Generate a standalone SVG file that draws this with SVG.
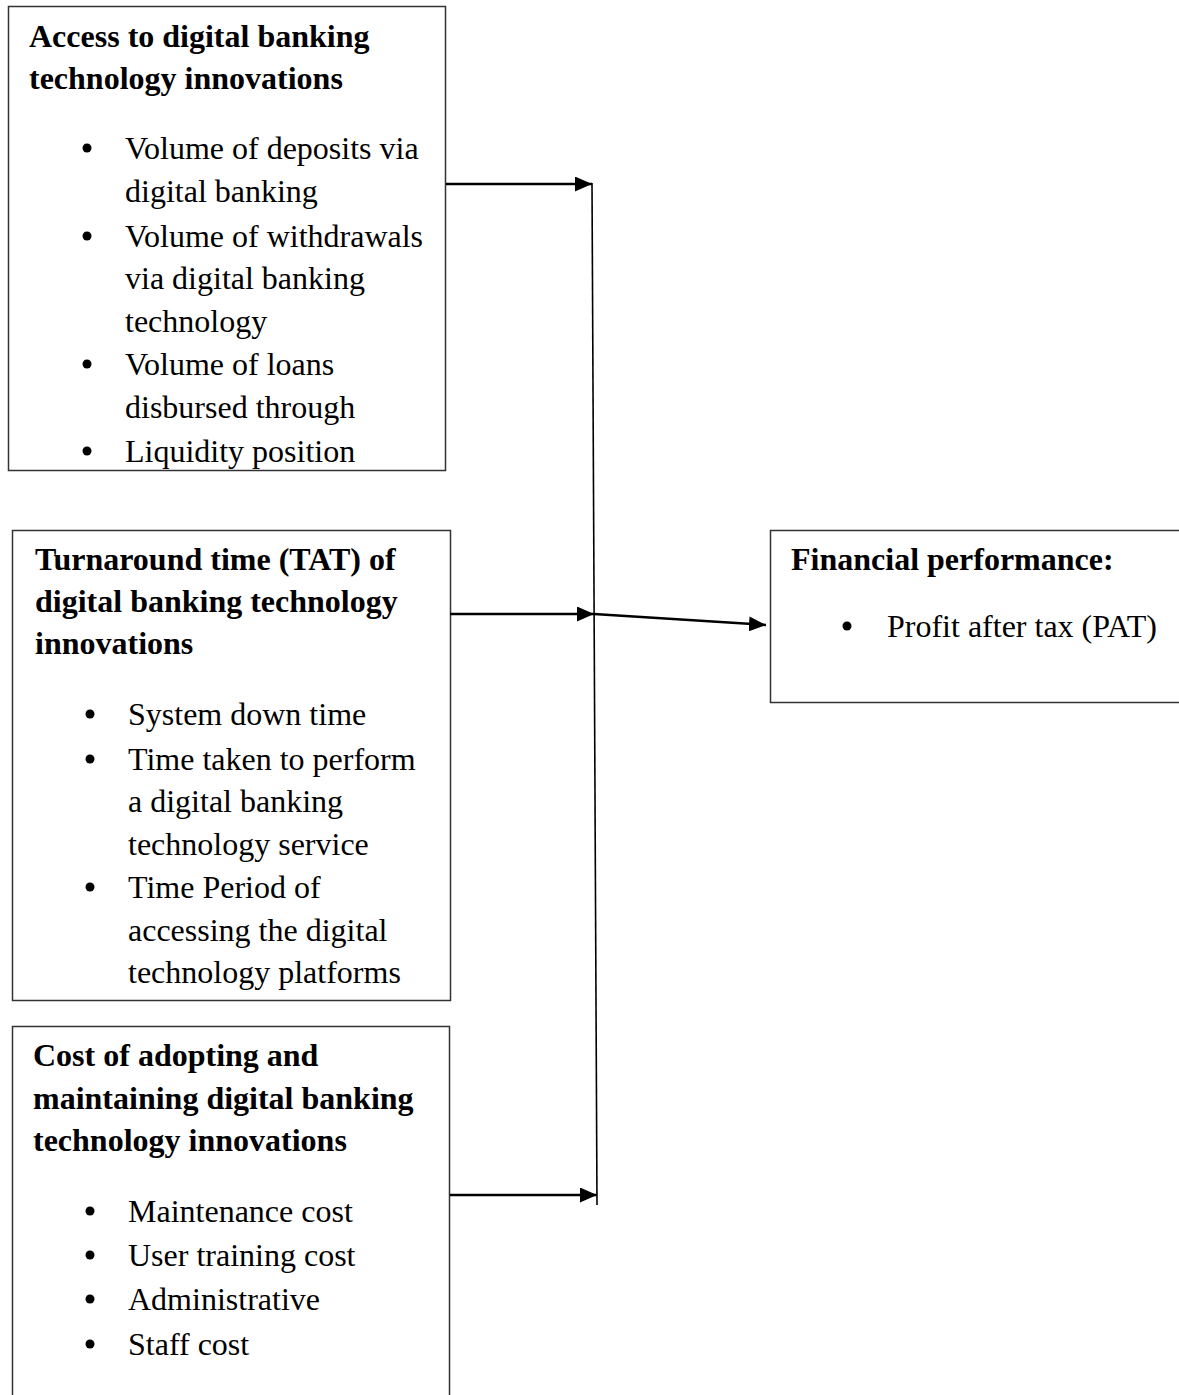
<svg xmlns="http://www.w3.org/2000/svg" width="1179" height="1395" viewBox="0 0 1179 1395">
<style>
.box{fill:#fff;stroke:#333;stroke-width:1.5}
.h{font-family:"Liberation Serif","Times New Roman",serif;font-size:32px;font-weight:bold;fill:#000}
.t{font-family:"Liberation Serif","Times New Roman",serif;font-size:32px;fill:#000}
.b{fill:#000}
.c{stroke:#000;stroke-width:2.5;fill:none}
.v{stroke:#000;stroke-width:1.6;fill:none}
</style>
<defs>
<marker id="ah" markerUnits="userSpaceOnUse" markerWidth="17" markerHeight="15" viewBox="0 0 17 15" refX="17" refY="7.5" orient="auto">
<path d="M0,0 L17,7.5 L0,15 z" fill="#000"/>
</marker>
</defs>
<rect width="1179" height="1395" fill="#fff"/>
<g id="node-access">
<rect class="box" x="8.5" y="6.5" width="437" height="464"/>
<text class="h" x="29" y="47">Access to digital banking</text>
<text class="h" x="29" y="89">technology innovations</text>
<circle class="b" cx="87" cy="148" r="4.5"/>
<text class="t" x="125" y="159">Volume of deposits via</text>
<text class="t" x="125" y="202">digital banking</text>
<circle class="b" cx="87" cy="236" r="4.5"/>
<text class="t" x="125" y="247">Volume of withdrawals</text>
<text class="t" x="125" y="289">via digital banking</text>
<text class="t" x="125" y="332">technology</text>
<circle class="b" cx="87" cy="364" r="4.5"/>
<text class="t" x="125" y="375">Volume of loans</text>
<text class="t" x="125" y="418">disbursed through</text>
<circle class="b" cx="87" cy="451" r="4.5"/>
<text class="t" x="125" y="462">Liquidity position</text>
</g>
<g id="node-tat">
<rect class="box" x="12.5" y="530.5" width="438" height="470"/>
<text class="h" x="35" y="570">Turnaround time (TAT) of</text>
<text class="h" x="35" y="612">digital banking technology</text>
<text class="h" x="35" y="654">innovations</text>
<circle class="b" cx="90" cy="714" r="4.5"/>
<text class="t" x="128" y="725">System down time</text>
<circle class="b" cx="90" cy="759" r="4.5"/>
<text class="t" x="128" y="770">Time taken to perform</text>
<text class="t" x="128" y="812">a digital banking</text>
<text class="t" x="128" y="855">technology service</text>
<circle class="b" cx="90" cy="887" r="4.5"/>
<text class="t" x="128" y="898">Time Period of</text>
<text class="t" x="128" y="941">accessing the digital</text>
<text class="t" x="128" y="983">technology platforms</text>
</g>
<g id="node-cost">
<rect class="box" x="12.5" y="1026.5" width="437" height="390"/>
<text class="h" x="33" y="1066">Cost of adopting and</text>
<text class="h" x="33" y="1109">maintaining digital banking</text>
<text class="h" x="33" y="1151">technology innovations</text>
<circle class="b" cx="90" cy="1211" r="4.5"/>
<text class="t" x="128" y="1222">Maintenance cost</text>
<circle class="b" cx="90" cy="1255" r="4.5"/>
<text class="t" x="128" y="1266">User training cost</text>
<circle class="b" cx="90" cy="1299" r="4.5"/>
<text class="t" x="128" y="1310">Administrative</text>
<circle class="b" cx="90" cy="1344" r="4.5"/>
<text class="t" x="128" y="1355">Staff cost</text>
</g>
<g id="node-performance">
<rect class="box" x="770.5" y="530.5" width="420" height="172"/>
<text class="h" x="791" y="570">Financial performance:</text>
<circle class="b" cx="847" cy="626" r="4.5"/>
<text class="t" x="887" y="637">Profit after tax (PAT)</text>
</g>
<g id="connectors">
<line class="v" x1="592" y1="183" x2="597" y2="1205"/>
<line class="c" x1="446" y1="184" x2="592" y2="184" marker-end="url(#ah)"/>
<line class="c" x1="450" y1="614" x2="594" y2="614" marker-end="url(#ah)"/>
<line class="c" x1="594" y1="614" x2="766" y2="625" marker-end="url(#ah)"/>
<line class="c" x1="450" y1="1195" x2="597" y2="1195" marker-end="url(#ah)"/>
</g>
</svg>
